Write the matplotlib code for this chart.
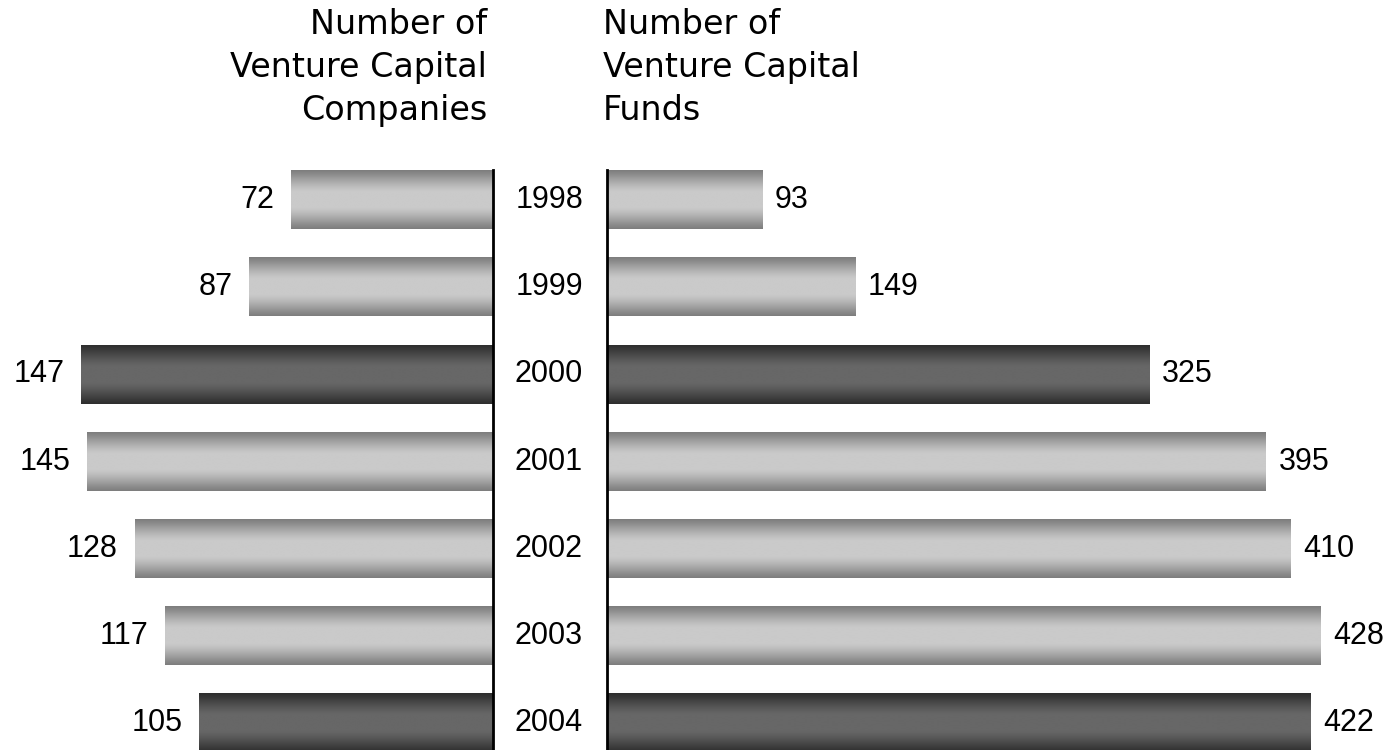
import numpy as np
import matplotlib
matplotlib.use("Agg")
import matplotlib.pyplot as plt
from matplotlib.colors import LinearSegmentedColormap
import matplotlib.transforms as mtransforms

years = ["1998", "1999", "2000", "2001", "2002", "2003", "2004"]
companies = [72, 87, 147, 145, 128, 117, 105]
funds = [93, 149, 325, 395, 410, 428, 422]
highlight = [False, False, True, False, False, False, True]

W, H = 1391, 750
fig = plt.figure(figsize=(W / 100, H / 100), dpi=100)
plt.rcParams['font.family'] = ['Liberation Sans', 'DejaVu Sans']

def px_axes(x0, x1, y0, y1):
    return fig.add_axes([x0 / W, 1 - y1 / H, (x1 - x0) / W, (y1 - y0) / H])

axL = px_axes(0, 493, 170, 750)
axR = px_axes(607, 1391, 170, 750)

pitch = 87.2
ytop = (170 - 200) / pitch
ybot = (750 - 200) / pitch
for ax in (axL, axR):
    ax.set_xticks([])
    ax.set_yticks([])
    for s in ax.spines.values():
        s.set_visible(False)
    ax.patch.set_alpha(0)

axL.spines['right'].set_visible(True)
axL.spines['right'].set_linewidth(2)
axR.spines['left'].set_visible(True)
axR.spines['left'].set_linewidth(2)

light = LinearSegmentedColormap.from_list("light", ["#7e7e7e", "#cacaca"])
dark = LinearSegmentedColormap.from_list("dark", ["#2e2e2e", "#676767"])
t = np.linspace(0, 1, 256)
prof = np.clip(np.sin(np.pi * t) * 1.1, 0, 1) ** 1.2
grad_img = prof[:, None]

def draw_bars(ax, vals):
    bars = ax.barh(range(len(vals)), vals, height=0.67, color='none', edgecolor='none')
    for b, hi in zip(bars, highlight):
        x0, y0 = b.get_x(), b.get_y()
        w, h = b.get_width(), b.get_height()
        ax.imshow(grad_img, cmap=dark if hi else light, vmin=0, vmax=1,
                  extent=(x0, x0 + w, y0 + h, y0), aspect='auto',
                  interpolation='bilinear', zorder=2)
    return bars

draw_bars(axL, companies)
draw_bars(axR, funds)
for ax in (axL, axR):
    ax.set_ylim(ybot, ytop)
axL.set_xlim(493 / 2.8, 0)
axR.set_xlim(0, 784 / 1.668)

fs = 22
for i, v in enumerate(companies):
    axL.annotate(str(v), (v, i), xytext=(-12, 0), textcoords='offset points',
                 ha='right', va='center', fontsize=fs)
for i, v in enumerate(funds):
    axR.annotate(str(v), (v, i), xytext=(9, 0), textcoords='offset points',
                 ha='left', va='center', fontsize=fs)

trans = mtransforms.blended_transform_factory(axR.transAxes, axR.transData)
for i, y in enumerate(years):
    axR.text(-(607 - 549) / 784, i, y, transform=trans, ha='center', va='center',
             fontsize=fs, clip_on=False)

tfs = 24
fig.text(487 / W, 1 - 8 / H, "Number of\nVenture Capital\nCompanies", ha='right', va='top',
         fontsize=tfs, linespacing=1.38, multialignment='right', family='DejaVu Sans')
fig.text(603 / W, 1 - 8 / H, "Number of\nVenture Capital\nFunds", ha='left', va='top',
         fontsize=tfs, linespacing=1.38, multialignment='left', family='DejaVu Sans')

fig.savefig("out.png", dpi=100)
